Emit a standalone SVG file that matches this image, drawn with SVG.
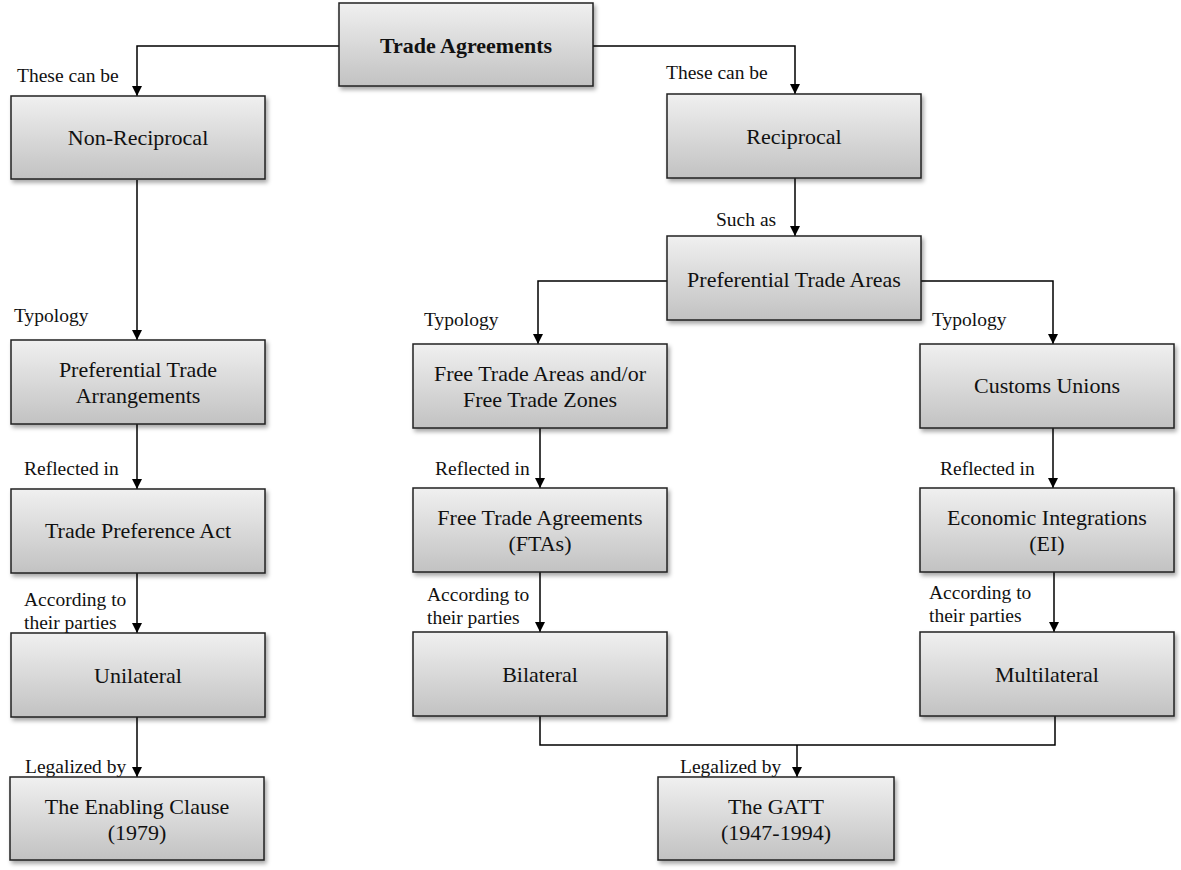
<svg xmlns="http://www.w3.org/2000/svg" width="1181" height="870" viewBox="0 0 1181 870">
<defs>
<linearGradient id="g" x1="0" y1="0" x2="0" y2="1">
<stop offset="0" stop-color="#f0f0f0"/>
<stop offset="1" stop-color="#c2c2c2"/>
</linearGradient>
<filter id="sh" x="-10%" y="-10%" width="120%" height="130%">
<feDropShadow dx="2" dy="3" stdDeviation="2" flood-color="#000" flood-opacity="0.35"/>
</filter>
<marker id="ah" viewBox="0 0 10 10" refX="10" refY="5" markerWidth="10" markerHeight="10" markerUnits="userSpaceOnUse" orient="auto">
<path d="M0,0 L10,5 L0,10 Z" fill="#000"/>
</marker>
</defs>
<style>
.box{fill:url(#g);stroke:#222;stroke-width:1.5;filter:url(#sh)}
.t{font-family:"Liberation Serif","Times New Roman",serif;font-size:22px;fill:#111;text-anchor:middle}
.b{font-weight:bold}
.l{font-family:"Liberation Serif","Times New Roman",serif;font-size:19.5px;fill:#111}
.c{fill:none;stroke:#000;stroke-width:1.5}
</style>
<rect width="1181" height="870" fill="#fff"/>
<g id="connectors">
<path class="c" d="M340,46 H137 V96" marker-end="url(#ah)"/>
<path class="c" d="M593,46 H795 V94" marker-end="url(#ah)"/>
<path class="c" d="M137,180 V340" marker-end="url(#ah)"/>
<path class="c" d="M795,178 V236" marker-end="url(#ah)"/>
<path class="c" d="M667,281 H538 V344" marker-end="url(#ah)"/>
<path class="c" d="M920,281 H1053 V344" marker-end="url(#ah)"/>
<path class="c" d="M137,424 V489" marker-end="url(#ah)"/>
<path class="c" d="M540,428 V488" marker-end="url(#ah)"/>
<path class="c" d="M1053,428 V488" marker-end="url(#ah)"/>
<path class="c" d="M137,573 V633" marker-end="url(#ah)"/>
<path class="c" d="M540,572 V632" marker-end="url(#ah)"/>
<path class="c" d="M1054,572 V632" marker-end="url(#ah)"/>
<path class="c" d="M137,717 V777" marker-end="url(#ah)"/>
<path class="c" d="M540,716 V745 H1055 V716"/>
<path class="c" d="M797,745 V777" marker-end="url(#ah)"/>
<text class="l" x="17" y="82">These can be</text>
<text class="l" x="666" y="79">These can be</text>
<text class="l" x="716" y="226">Such as</text>
<text class="l" x="14" y="322">Typology</text>
<text class="l" x="424" y="326">Typology</text>
<text class="l" x="932" y="326">Typology</text>
<text class="l" x="24" y="475">Reflected in</text>
<text class="l" x="435" y="475">Reflected in</text>
<text class="l" x="940" y="475">Reflected in</text>
<text class="l" x="24" y="606">According to</text>
<text class="l" x="24" y="629">their parties</text>
<text class="l" x="427" y="601">According to</text>
<text class="l" x="427" y="624">their parties</text>
<text class="l" x="929" y="599">According to</text>
<text class="l" x="929" y="622">their parties</text>
<text class="l" x="25" y="773">Legalized by</text>
<text class="l" x="680" y="773">Legalized by</text>
</g>
<g id="n-trade">
<rect class="box" x="339" y="3" width="254" height="83"/>
<text class="t b" x="466" y="53">Trade Agreements</text>
</g>
<g id="n-nonrecip">
<rect class="box" x="11" y="96" width="254" height="83"/>
<text class="t" x="138" y="145">Non-Reciprocal</text>
</g>
<g id="n-recip">
<rect class="box" x="667" y="94" width="254" height="84"/>
<text class="t" x="794" y="144">Reciprocal</text>
</g>
<g id="n-pta">
<rect class="box" x="667" y="236" width="254" height="84"/>
<text class="t" x="794" y="287">Preferential Trade Areas</text>
</g>
<g id="n-ptarr">
<rect class="box" x="11" y="340" width="254" height="84"/>
<text class="t" x="138" y="377">Preferential Trade</text>
<text class="t" x="138" y="403">Arrangements</text>
</g>
<g id="n-fta">
<rect class="box" x="413" y="344" width="254" height="84"/>
<text class="t" x="540" y="381">Free Trade Areas and/or</text>
<text class="t" x="540" y="407">Free Trade Zones</text>
</g>
<g id="n-cu">
<rect class="box" x="920" y="344" width="254" height="84"/>
<text class="t" x="1047" y="393">Customs Unions</text>
</g>
<g id="n-tpa">
<rect class="box" x="11" y="489" width="254" height="84"/>
<text class="t" x="138" y="538">Trade Preference Act</text>
</g>
<g id="n-ftas">
<rect class="box" x="413" y="488" width="254" height="84"/>
<text class="t" x="540" y="525">Free Trade Agreements</text>
<text class="t" x="540" y="551">(FTAs)</text>
</g>
<g id="n-ei">
<rect class="box" x="920" y="488" width="254" height="84"/>
<text class="t" x="1047" y="525">Economic Integrations</text>
<text class="t" x="1047" y="551">(EI)</text>
</g>
<g id="n-uni">
<rect class="box" x="11" y="633" width="254" height="84"/>
<text class="t" x="138" y="683">Unilateral</text>
</g>
<g id="n-bi">
<rect class="box" x="413" y="632" width="254" height="84"/>
<text class="t" x="540" y="682">Bilateral</text>
</g>
<g id="n-multi">
<rect class="box" x="920" y="632" width="254" height="84"/>
<text class="t" x="1047" y="682">Multilateral</text>
</g>
<g id="n-enabling">
<rect class="box" x="10" y="777" width="254" height="83"/>
<text class="t" x="137" y="814">The Enabling Clause</text>
<text class="t" x="137" y="840">(1979)</text>
</g>
<g id="n-gatt">
<rect class="box" x="658" y="777" width="236" height="83"/>
<text class="t" x="776" y="814">The GATT</text>
<text class="t" x="776" y="840">(1947-1994)</text>
</g>
</svg>
